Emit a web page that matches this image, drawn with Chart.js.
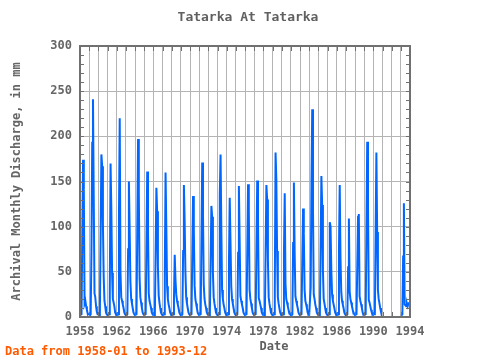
<!DOCTYPE html>
<html>
<head>
<meta charset="utf-8">
<script src="https://cdn.jsdelivr.net/npm/chart.js@4.4.1/dist/chart.umd.min.js"></script>
<style>
  html, body { margin: 0; padding: 0; background: #fff; }
  #wrap { width: 480px; height: 360px; }
</style>
</head>
<body>
<div id="wrap"><canvas id="chart" width="480" height="360"></canvas></div>
<script>
// monthly discharge, mm (Jan..Dec per row)
const flow1958_1969 = [
  2, 2, 3, 89, 174, 141, 15, 18, 12, 8, 4, 3,
  3, 2, 3, 74, 193, 241, 130, 26, 22, 12, 6, 3,
  3, 2, 3, 91, 180, 167, 104, 45, 18, 12, 5, 3,
  2, 2, 3, 30, 170, 121, 49, 20, 16, 12, 5, 3,
  2, 2, 3, 112, 220, 49, 22, 18, 14, 10, 5, 3,
  2, 2, 3, 75, 150, 97, 39, 20, 15, 10, 5, 3,
  2, 2, 3, 100, 197, 137, 43, 22, 16, 10, 5, 3,
  2, 2, 3, 82, 161, 100, 26, 18, 14, 10, 5, 3,
  2, 2, 3, 72, 143, 117, 56, 24, 16, 10, 5, 3,
  2, 2, 3, 49, 160, 100, 34, 20, 14, 10, 5, 3,
  2, 2, 3, 20, 69, 41, 25, 18, 14, 10, 5, 3,
  2, 2, 3, 73, 146, 106, 50, 22, 15, 10, 5, 3,
];
const flow1970_1981 = [
  2, 2, 3, 69, 134, 97, 35, 20, 15, 10, 5, 3,
  2, 2, 3, 87, 171, 115, 36, 20, 14, 10, 5, 3,
  2, 2, 3, 65, 123, 111, 49, 22, 15, 10, 5, 3,
  2, 2, 3, 136, 180, 99, 30, 20, 14, 10, 5, 3,
  2, 2, 3, 60, 132, 84, 34, 20, 15, 10, 5, 3,
  2, 2, 3, 71, 145, 84, 23, 18, 14, 10, 5, 3,
  2, 2, 3, 74, 147, 117, 30, 20, 15, 10, 5, 3,
  2, 2, 3, 78, 151, 111, 21, 18, 14, 10, 5, 3,
  2, 2, 3, 74, 146, 130, 63, 22, 15, 10, 5, 3,
  2, 2, 3, 30, 182, 153, 73, 22, 15, 10, 5, 3,
  2, 2, 3, 71, 137, 37, 20, 16, 12, 8, 5, 3,
  2, 2, 3, 82, 149, 71, 23, 18, 14, 10, 5, 3,
];
const flow1982_1993 = [
  2, 2, 3, 63, 120, 92, 30, 18, 14, 10, 5, 3,
  2, 2, 33, 147, 230, 120, 25, 20, 14, 10, 5, 3,
  2, 2, 3, 77, 156, 124, 52, 20, 15, 10, 5, 3,
  2, 2, 3, 105, 100, 52, 25, 18, 14, 10, 5, 3,
  2, 2, 3, 74, 146, 66, 28, 18, 14, 10, 5, 3,
  2, 2, 3, 55, 109, 28, 20, 16, 12, 8, 5, 3,
  2, 2, 3, 57, 111, 114, 23, 18, 14, 10, 5, 3,
  2, 2, 3, 99, 194, 127, 19, 16, 12, 8, 5, 3,
  3, 3, 4, 93, 182, 94, 30, 20, 15, 10, 6, 5,
  null, null, null, null, null, null, null, null, null, null, null, null,
  null, null, null, null, null, null, null, null, null, null, null, null,
  2, 2, 3, 67, 126, 14, 13, 12, 15, 12, 15, 16,
];
const startYear = 1958;
const yearLabels = [1958, 1962, 1966, 1970, 1974, 1978, 1982, 1986, 1990, 1994];

const flow = flow1958_1969.concat(flow1970_1981, flow1982_1993);
const points = flow.map((v, i) => ({ x: startYear + i / 12, y: v }));

const textGray = '#666666';
const mono = '"DejaVu Sans Mono", "Liberation Mono", monospace';

const framePlugin = {
  id: 'frame',
  afterDatasetsDraw(chart) {
    const { ctx, chartArea: a, scales } = chart;
    ctx.save();
    ctx.strokeStyle = '#707070';
    ctx.lineWidth = 1;
    ctx.beginPath();
    for (let v = 0; v <= 300; v += 10) {
      const y = Math.round(scales.y.getPixelForValue(v)) + 0.5;
      ctx.moveTo(a.left, y); ctx.lineTo(a.left + 4, y);
      ctx.moveTo(a.right, y); ctx.lineTo(a.right - 4, y);
    }
    for (let yr = 1958; yr <= 1994; yr++) {
      const x = Math.round(scales.x.getPixelForValue(yr)) + 0.5;
      ctx.moveTo(x, a.top); ctx.lineTo(x, a.top + 5);
      ctx.moveTo(x, a.bottom); ctx.lineTo(x, a.bottom - 5);
    }
    ctx.stroke();
    ctx.lineWidth = 2;
    ctx.strokeRect(a.left, a.top, a.right - a.left, a.bottom - a.top);
    ctx.restore();
  },
  afterDraw(chart) {
    const { ctx } = chart;
    ctx.save();
    ctx.textAlign = 'center';
    ctx.textBaseline = 'middle';
    ctx.fillStyle = '#606060';
    ctx.font = 'bold 13px ' + mono;
    ctx.fillText('Tatarka At Tatarka', 248, 18);
    ctx.font = 'bold 12px ' + mono;
    ctx.fillText('Date', 274, 347);
    ctx.textAlign = 'left';
    ctx.fillStyle = '#ff5a00';
    ctx.fillText('Data from 1958-01 to 1993-12', 5, 352);
    ctx.restore();
  }
};

new Chart(document.getElementById('chart').getContext('2d'), {
  type: 'line',
  data: {
    datasets: [{
      label: 'Tatarka',
      data: points,
      borderColor: '#0066ff',
      backgroundColor: '#0066ff',
      borderWidth: 2,
      pointRadius: 0,
      tension: 0,
      spanGaps: false,
    }],
  },
  options: {
    responsive: false,
    animation: false,
    layout: { padding: { top: 46, right: 70, bottom: 0, left: 0 } },
    plugins: { legend: { display: false }, tooltip: { enabled: false } },
    scales: {
      x: {
        type: 'linear',
        min: 1958,
        max: 1994,
        afterFit(scale) { scale.height = 43; },
        border: { display: false },
        grid: { color: '#b4b4b4', lineWidth: 1, drawTicks: false },
        ticks: {
          stepSize: 1,
          autoSkip: false,
          maxRotation: 0,
          padding: 8,
          color: textGray,
          font: { family: mono, size: 12, weight: 'bold' },
          callback: (v) => yearLabels.includes(v) ? String(v) : '',
        },
      },
      y: {
        min: 0,
        max: 300,
        afterFit(scale) { scale.width = 80; },
        border: { display: false },
        grid: { color: '#b4b4b4', lineWidth: 1, drawTicks: false },
        ticks: {
          stepSize: 50,
          padding: 8,
          color: textGray,
          font: { family: mono, size: 12, weight: 'bold' },
        },
        title: {
          display: true,
          text: 'Archival Monthly Discharge, in mm',
          color: textGray,
          font: { family: mono, size: 12, weight: 'bold' },
          padding: { top: 10, bottom: 0 },
        },
      },
    },
  },
  plugins: [framePlugin],
});
</script>
</body>
</html>
